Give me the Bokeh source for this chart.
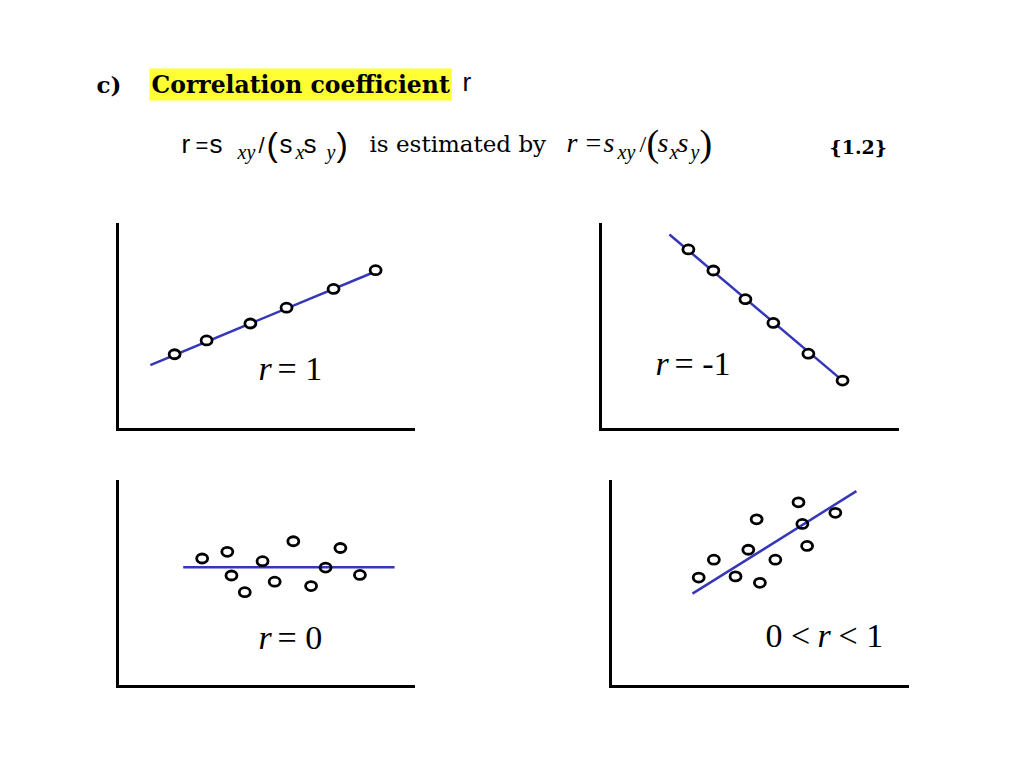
from bokeh.plotting import figure
from bokeh.models import Range1d, Label, FixedTicker
from bokeh.layouts import column, row
from bokeh.embed import file_html
from bokeh.resources import INLINE

# ---------------- data (panel units: x 0..10, y 0..7) ----------------
p1_x = [1.93, 3.01, 4.49, 5.71, 7.30, 8.72]
p1_y = [2.57, 3.04, 3.62, 4.16, 4.80, 5.44]
p1_fit_x = [1.11, 8.92]
p1_fit_y = [2.20, 5.48]

p2_x = [2.96, 3.80, 4.88, 5.82, 7.00, 8.15]
p2_y = [6.15, 5.43, 4.45, 3.64, 2.59, 1.67]
p2_fit_x = [2.32, 8.15]
p2_fit_y = [6.66, 1.67]

p3_x = [2.86, 3.71, 3.85, 4.30, 4.90, 5.31, 5.94, 6.54, 7.03, 7.53, 8.19]
p3_y = [4.37, 4.60, 3.79, 3.22, 4.28, 3.58, 4.96, 3.43, 4.06, 4.73, 3.81]
p3_fit_x = [2.22, 9.36]
p3_fit_y = [4.07, 4.07]

p4_x = [2.97, 3.48, 4.21, 4.64, 4.92, 5.03, 5.55, 6.33, 6.46, 6.62, 7.57]
p4_y = [3.72, 4.33, 3.76, 4.67, 5.71, 3.54, 4.33, 6.29, 5.55, 4.80, 5.93]
p4_fit_x = [2.76, 8.28]
p4_fit_y = [3.17, 6.67]

BLUE = "#3636B8"
SERIF = "Liberation Serif"
SANS = "Liberation Sans"
BOLDSERIF = "DejaVu Serif"
SHIFT = 0.34  # baseline correction (fraction of font size)

# ---------------- header ----------------
hdr = figure(width=1008, height=208, x_range=Range1d(0, 1008), y_range=Range1d(208, 0),
             x_axis_type=None, y_axis_type=None, toolbar_location=None,
             output_backend="svg", min_border=0, outline_line_color=None)
hdr.grid.visible = False


def mk(x, y, text, font, size, style, **kw):
    return Label(x=x, y=y, text=text, text_font=font, text_font_size=f"{size}px",
                 text_font_style=style, text_align="left",
                 text_baseline="alphabetic", text_color="black", **kw)


def lab(x, y, text, font=SERIF, size=20, style="normal", **kw):
    hdr.add_layout(mk(x, y - SHIFT * size, text, font, size, style, **kw))


lab(96, 92, "c)", font=BOLDSERIF, size=23, style="bold")
lab(149, 92, "Correlation coefficient", font=BOLDSERIF, size=23.5, style="bold",
    background_fill_color="#FFFF33", padding=2)
lab(462, 90, "r", font=SANS, size=26)

# line 2, first formula (sans glyphs)
lab(181, 152, "r", font=SANS, size=26)
lab(195, 152, "=", font=SANS, size=22)
lab(209, 152, "s", font=SANS, size=26)
lab(237, 158, "xy", font=SERIF, size=20, style="italic")
lab(258, 152, "/", font=SANS, size=22)
lab(266, 155, "(", font=SANS, size=34)
lab(279, 152, "s", font=SANS, size=26)
lab(295, 158, "x", font=SERIF, size=20, style="italic")
lab(303, 152, "s", font=SANS, size=26)
lab(326, 158, "y", font=SERIF, size=20, style="italic")
lab(336, 155, ")", font=SANS, size=34)

lab(369, 151, "is estimated by", font=BOLDSERIF, size=23)

# second formula (serif italic)
lab(566, 152, "r", font=SERIF, size=28, style="italic")
lab(585, 152, "=", font=SERIF, size=28)
lab(603, 152, "s", font=SERIF, size=28, style="italic")
lab(617, 158, "xy", font=SERIF, size=20, style="italic")
lab(639, 152, "/", font=SERIF, size=24)
lab(646, 155, "(", font=SERIF, size=38)
lab(657, 152, "s", font=SERIF, size=28, style="italic")
lab(669, 158, "x", font=SERIF, size=20, style="italic")
lab(677, 152, "s", font=SERIF, size=28, style="italic")
lab(690, 158, "y", font=SERIF, size=20, style="italic")
lab(699, 155, ")", font=SERIF, size=38)

lab(829, 153, "{1.2}", font=BOLDSERIF, size=19, style="bold")


# ---------------- panels ----------------
def panel(w, h, bl, br, bt, bb):
    p = figure(width=w, height=h, x_range=Range1d(0, 10), y_range=Range1d(0, 7),
               toolbar_location=None, output_backend="svg",
               min_border_left=bl, min_border_right=br, min_border_top=bt,
               min_border_bottom=bb, outline_line_color=None)
    p.grid.visible = False
    for ax in (p.xaxis[0], p.yaxis[0]):
        ax.ticker = FixedTicker(ticks=[])
        ax.major_label_text_font_size = "0px"
        ax.major_tick_line_color = None
        ax.minor_tick_line_color = None
        ax.major_label_standoff = 0
        ax.axis_line_width = 3
        ax.axis_line_color = "black"
        ax.axis_line_cap = "square"
    return p


def draw(p, fx, fy, xs, ys, fill):
    p.line(fx, fy, line_color=BLUE, line_width=2.5)
    p.ellipse(xs, ys, width=11, height=9, width_units="screen", height_units="screen",
              line_color="black", line_width=2.8,
              fill_color="white", fill_alpha=1.0 if fill else 0.0)


def to_data(left, bottom, wpx, px, py):
    return (px - left) / (wpx / 10.0), (bottom - py) / (207 / 7.0)


f1 = panel(490, 252, 117, 77, 14, 31)
draw(f1, p1_fit_x, p1_fit_y, p1_x, p1_y, True)
f2 = panel(518, 252, 110, 111, 16, 29)
draw(f2, p2_fit_x, p2_fit_y, p2_x, p2_y, True)
f3 = panel(490, 292, 117, 77, 19, 66)
draw(f3, p3_fit_x, p3_fit_y, p3_x, p3_y, False)
f4 = panel(518, 292, 120, 101, 21, 64)
draw(f4, p4_fit_x, p4_fit_y, p4_x, p4_y, False)


def plab(fig, geom, px, py, text, style="normal", size=34):
    x, y = to_data(*geom, px, py - SHIFT * size)
    fig.add_layout(mk(x, y, text, SERIF, size, style))


g1 = (117, 429, 296)
plab(f1, g1, 258, 379, "r", "italic")
plab(f1, g1, 277, 379, "= 1")
g2 = (600, 431, 297)
plab(f2, g2, 655, 376, "r", "italic")
plab(f2, g2, 674, 376, "= -1")
g3 = (117, 686, 296)
plab(f3, g3, 258, 648, "r", "italic")
plab(f3, g3, 277, 648, "= 0")
g4 = (610, 688, 297)
plab(f4, g4, 765, 648, "0 <")
plab(f4, g4, 817, 648, "r", "italic")
plab(f4, g4, 838, 648, "< 1")

layout = column(hdr, row(f1, f2), row(f3, f4))
open("out.html", "w").write(file_html(layout, INLINE))
